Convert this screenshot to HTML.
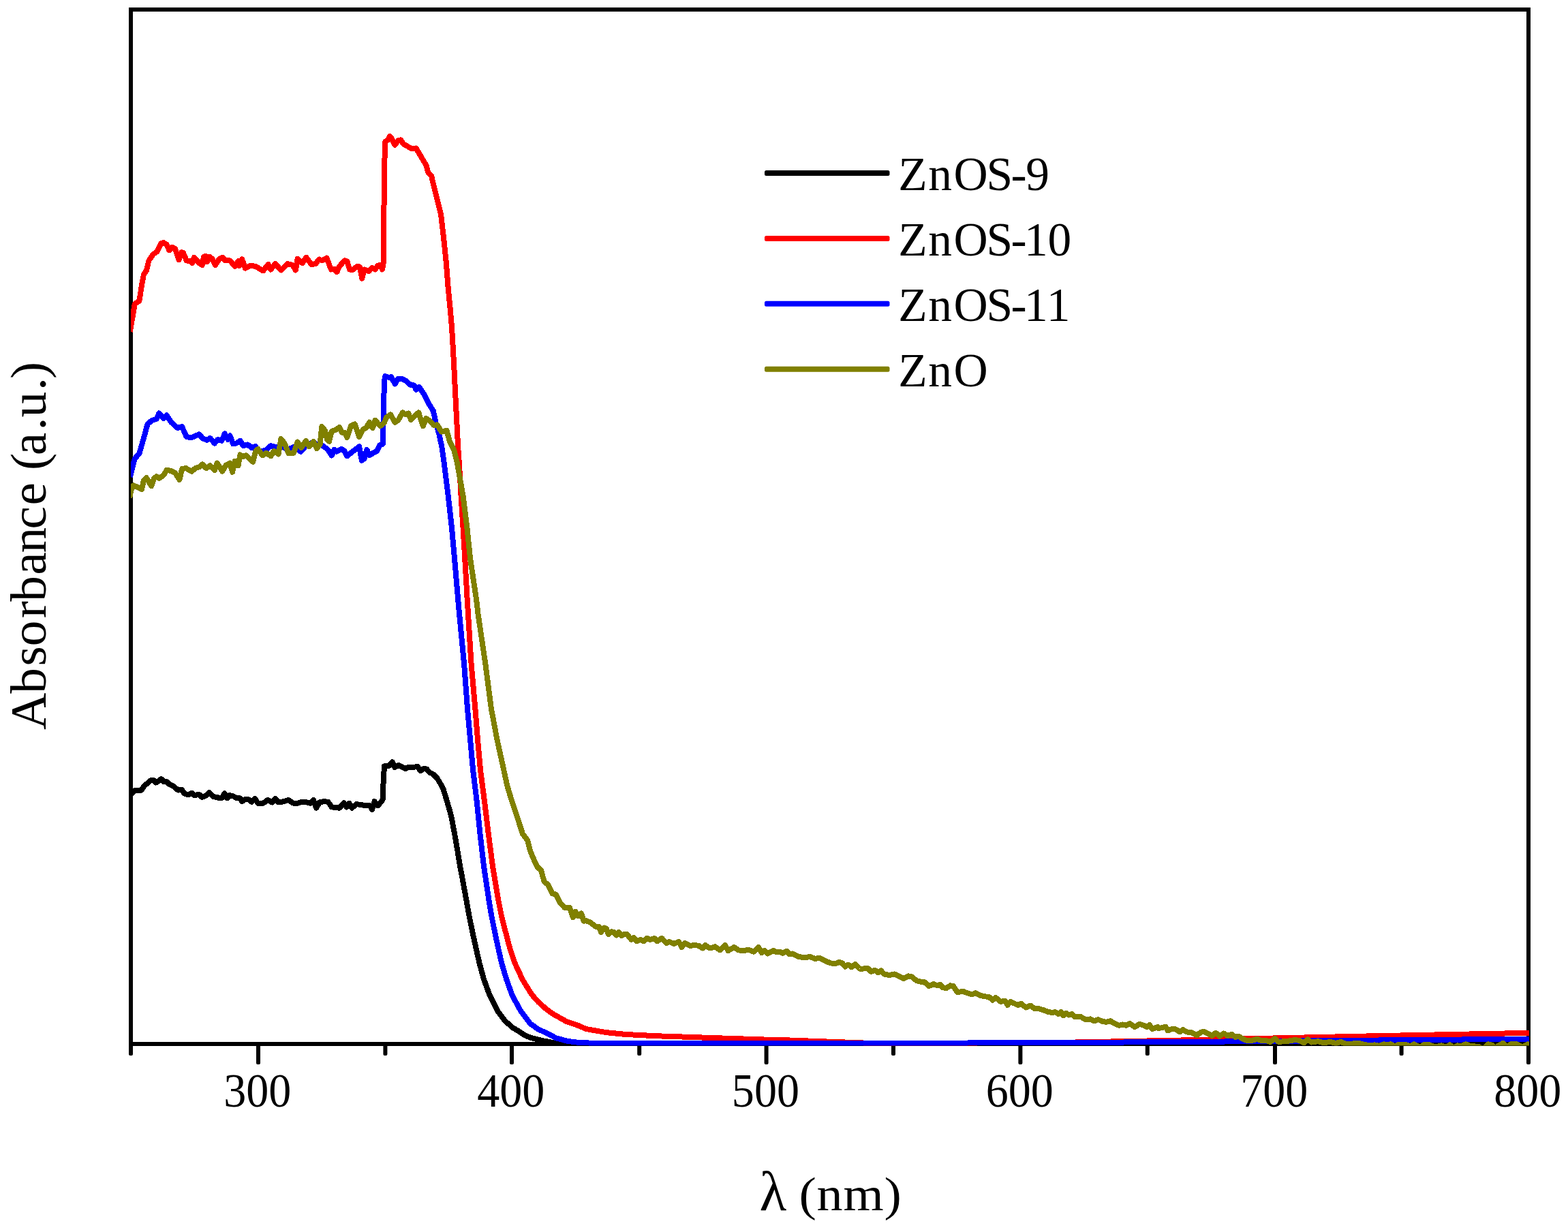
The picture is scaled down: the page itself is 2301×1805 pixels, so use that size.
<!DOCTYPE html>
<html lang="en"><head><meta charset="utf-8"><title>UV-Vis absorbance spectra</title>
<style>
html,body{margin:0;padding:0;background:#fff;}
body{width:2301px;height:1805px;overflow:hidden;}
svg{display:block;}
text{font-family:"Liberation Serif", "DejaVu Serif", serif;fill:#000;}
.tick{font-size:69px;text-anchor:middle;}
.leg{font-size:69.5px;}
.title{text-anchor:middle;}
</style></head><body>
<svg width="2301" height="1805" viewBox="0 0 2301 1805">
<rect x="0" y="0" width="2301" height="1805" fill="#ffffff"/>
<defs><clipPath id="plot"><rect x="192" y="14.0" width="2052.0" height="1520.6"/></clipPath></defs>
<g fill="none" stroke="#000" stroke-width="6.0" shape-rendering="crispEdges">
<rect x="192.0" y="14.0" width="2051.0" height="1518.0"/>
</g>
<g fill="#000">
<rect x="189.0" y="1530.0" width="6.0" height="19.0" rx="2" ry="2"/>
<rect x="376.0" y="1530.0" width="6.0" height="32.0" rx="2" ry="2"/>
<rect x="562.4" y="1530.0" width="6.0" height="19.0" rx="2" ry="2"/>
<rect x="748.0" y="1530.0" width="6.0" height="32.0" rx="2" ry="2"/>
<rect x="935.2" y="1530.0" width="6.0" height="19.0" rx="2" ry="2"/>
<rect x="1121.6" y="1530.0" width="6.0" height="32.0" rx="2" ry="2"/>
<rect x="1308.0" y="1530.0" width="6.0" height="19.0" rx="2" ry="2"/>
<rect x="1494.4" y="1530.0" width="6.0" height="32.0" rx="2" ry="2"/>
<rect x="1680.8" y="1530.0" width="6.0" height="19.0" rx="2" ry="2"/>
<rect x="1868.0" y="1530.0" width="6.0" height="32.0" rx="2" ry="2"/>
<rect x="2053.6" y="1530.0" width="6.0" height="19.0" rx="2" ry="2"/>
<rect x="2240.0" y="1530.0" width="6.0" height="32.0" rx="2" ry="2"/>
</g>
<g clip-path="url(#plot)" fill="none" stroke-width="8.0" stroke-linejoin="round" stroke-linecap="butt" shape-rendering="crispEdges">
<polyline stroke="#000000" points="189.6,1172.0 192.1,1165.8 197.9,1160.2 207.6,1159.6 211.7,1153.4 216.5,1149.2 221.3,1145.1 225.5,1145.1 228.9,1148.5 233.1,1145.8 236.5,1143.0 240.6,1147.2 244.8,1147.2 248.9,1151.3 254.4,1153.4 261.3,1159.6 266.8,1158.9 270.3,1164.4 275.8,1166.4 281.3,1163.7 285.4,1167.1 292.3,1165.8 296.4,1169.9 302.0,1167.8 306.8,1163.0 313.0,1169.2 318.5,1169.9 321.9,1171.3 326.1,1170.6 329.5,1164.4 333.7,1171.3 337.1,1167.1 342.6,1168.5 347.4,1171.3 352.3,1171.3 355.0,1176.1 360.5,1172.6 364.7,1173.3 369.5,1176.8 374.3,1172.0 378.4,1178.8 386.0,1178.8 392.9,1174.0 399.1,1177.5 403.9,1172.0 408.8,1177.5 417.0,1176.1 423.2,1174.0 429.4,1178.2 434.9,1179.5 440.0,1177.5 448.3,1176.8 455.2,1178.8 460.0,1174.0 464.1,1185.7 468.9,1177.5 475.8,1176.1 481.3,1176.8 486.9,1184.4 492.4,1185.0 497.9,1185.7 504.8,1178.2 508.9,1184.4 512.3,1178.8 516.5,1185.7 522.7,1180.2 529.6,1180.9 536.5,1182.3 542.7,1182.3 546.1,1187.8 549.6,1176.1 554.4,1182.3 559.9,1176.1 562.0,1172.6 562.6,1146.5 564.0,1124.4 570.9,1123.7 575.7,1118.2 579.2,1125.8 584.7,1123.0 590.2,1125.8 595.0,1127.9 599.9,1125.8 606.7,1125.8 612.9,1125.1 617.1,1131.3 621.9,1127.9 626.0,1128.5 630.2,1133.4 635.7,1136.1 641.2,1141.6 646.7,1150.6 650.8,1158.9 655.0,1172.6 659.7,1188.7 662.7,1200.3 667.1,1223.7 671.2,1247.1 675.0,1270.5 679.4,1293.9 684.2,1320.0 688.4,1343.4 693.1,1366.8 698.3,1390.3 703.6,1413.7 710.0,1437.1 718.6,1460.5 730.3,1483.9 741.0,1498.0 752.4,1508.0 761.5,1513.5 771.0,1519.7 779.0,1523.0 795.0,1526.9 812.0,1530.2 834.0,1531.9 900.0,1532.3 1000.0,1532.3 2244.0,1532.3"/>
<polyline stroke="#ff0000" points="190.8,487.0 197.8,446.1 204.4,441.4 208.1,418.0 210.9,403.0 214.7,397.4 218.4,382.4 225.0,373.0 230.6,369.3 236.2,357.1 240.0,356.1 244.6,359.0 248.4,367.4 252.1,362.7 256.8,364.6 262.4,381.4 266.2,370.2 269.0,371.1 273.7,382.4 279.3,383.3 282.1,386.1 284.9,377.7 292.4,386.1 296.6,388.9 299.0,376.8 301.8,375.8 303.7,384.2 307.4,376.8 311.2,379.6 315.9,388.9 321.5,380.5 326.2,377.7 330.8,382.4 337.4,382.4 344.9,390.8 349.6,383.3 351.5,389.9 355.2,380.5 359.9,393.6 367.4,389.9 374.9,390.8 386.1,397.4 393.6,388.0 397.4,395.5 403.9,387.1 412.4,396.4 421.7,387.1 429.2,388.9 433.9,396.4 436.7,379.6 440.0,383.3 443.7,386.1 449.4,377.7 456.9,388.0 463.4,387.1 468.1,380.5 472.8,382.4 479.4,378.6 485.9,395.5 490.6,394.6 494.3,399.2 498.1,390.8 505.6,382.4 509.3,383.3 513.1,395.5 516.8,396.4 524.3,390.8 528.1,391.7 531.3,408.6 534.6,395.5 541.2,398.3 545.9,392.7 550.6,395.5 554.3,389.9 558.1,388.9 560.9,395.5 562.7,386.1 563.7,283.1 564.6,226.8 565.2,208.1 569.3,205.3 572.1,200.2 574.9,203.4 579.6,212.8 584.3,206.2 588.0,205.3 592.7,211.9 604.9,218.4 610.5,217.5 616.1,226.8 625.5,242.8 628.3,253.1 633.0,257.8 638.3,280.0 647.1,315.1 651.2,350.3 654.8,385.4 657.5,420.5 660.9,455.6 663.0,480.0 665.7,526.8 668.0,573.7 670.4,620.5 672.1,655.6 673.9,680.0 676.5,726.8 679.5,773.7 682.3,820.5 685.7,880.0 686.9,900.0 691.6,974.7 697.4,1040.0 701.0,1085.0 705.0,1130.0 711.1,1176.8 716.8,1223.7 722.9,1270.5 731.1,1320.0 735.8,1343.4 741.7,1366.8 747.9,1390.3 755.7,1413.7 766.6,1437.1 773.6,1448.8 781.2,1460.5 790.6,1471.0 801.1,1480.4 810.5,1487.4 820.0,1492.7 831.3,1499.1 849.2,1505.2 860.0,1510.0 889.3,1515.1 918.5,1518.0 962.4,1520.2 1006.3,1521.7 1050.2,1523.2 1094.1,1524.6 1138.0,1526.1 1140.0,1525.8 1274.6,1530.8 1420.0,1530.6 1578.0,1529.5 1720.0,1526.8 2000.0,1520.6 2100.0,1518.6 2244.0,1515.8"/>
<polyline stroke="#0000ff" points="190.8,700.0 197.8,673.0 204.4,665.5 210.9,643.0 216.5,622.4 223.1,616.8 229.7,614.9 233.4,606.5 240.0,614.0 244.6,609.3 251.2,619.6 260.6,628.0 267.1,626.2 273.7,641.1 281.2,642.1 287.7,639.3 292.4,637.4 297.1,643.0 303.7,645.8 308.4,643.0 314.9,650.5 319.6,644.9 325.2,646.8 329.9,636.5 334.6,644.9 337.4,639.3 342.1,651.5 346.8,650.5 352.4,646.8 357.1,654.3 363.6,652.4 369.3,657.1 374.9,655.2 380.5,662.7 389.9,660.8 397.4,654.3 404.9,656.1 414.2,655.2 421.7,659.9 431.1,656.1 441.4,662.7 448.0,655.2 455.5,650.5 464.8,651.5 473.7,654.3 480.3,659.0 486.8,668.3 490.6,659.9 494.3,662.7 500.9,659.0 505.6,661.8 509.3,669.3 515.0,664.6 522.4,659.0 527.1,655.2 530.9,675.8 534.6,673.0 538.4,659.9 542.1,668.3 547.7,664.6 553.4,661.8 557.1,653.3 561.8,651.5 563.1,592.4 564.0,558.7 565.2,552.1 571.2,554.0 574.0,553.1 579.6,563.4 584.3,555.9 589.9,555.9 595.5,558.7 603.0,565.3 607.7,565.3 610.5,571.8 615.2,568.1 622.7,579.3 629.3,592.4 635.8,603.0 639.6,620.5 644.6,638.1 648.3,655.6 651.8,680.0 657.6,726.8 662.9,773.7 667.1,820.5 672.2,880.0 674.0,900.0 681.1,974.7 686.0,1040.0 694.1,1130.0 699.8,1176.8 704.5,1223.7 709.9,1270.5 717.3,1320.0 721.2,1343.4 725.9,1366.8 730.9,1390.3 736.2,1413.7 743.2,1437.1 751.6,1460.5 764.3,1483.9 778.0,1502.0 788.6,1509.7 803.5,1516.8 815.8,1523.2 832.5,1527.8 849.2,1529.9 871.4,1530.8 900.0,1531.0 1000.0,1531.0 1420.0,1530.5 1720.0,1529.2 2000.0,1526.7 2244.0,1524.7"/>
<polyline stroke="#808000" points="190.3,730.2 192.2,719.9 195.9,712.4 202.5,715.2 208.1,718.0 210.9,704.9 214.7,701.1 222.2,713.3 225.9,702.0 229.7,699.2 233.4,702.0 240.0,697.4 244.6,689.9 250.3,690.8 256.8,693.6 263.4,703.9 267.1,688.0 272.8,687.1 281.2,691.7 286.8,687.1 292.4,685.2 297.1,681.4 302.7,687.1 308.4,683.3 314.9,689.9 318.7,679.6 326.2,691.7 331.8,682.4 337.4,679.6 341.1,692.7 344.9,676.8 349.6,683.3 352.4,667.4 357.1,670.2 360.8,668.3 371.1,677.7 374.9,662.7 378.6,659.0 385.2,668.3 390.8,664.6 397.4,669.3 402.0,661.8 408.6,666.4 412.4,644.0 418.0,651.5 423.6,665.5 431.1,664.6 436.7,648.6 442.3,657.1 448.9,646.8 453.6,655.2 460.1,647.7 464.8,658.0 469.5,652.4 472.3,626.2 477.0,631.8 480.0,644.9 483.1,647.7 486.8,632.7 492.5,630.8 498.1,627.1 501.8,634.6 505.6,634.6 509.3,642.1 515.0,625.2 520.6,622.4 527.1,641.1 532.8,629.9 537.4,628.0 542.1,619.6 546.8,628.0 550.6,616.8 558.1,625.2 563.7,620.5 567.4,612.1 573.0,608.4 579.6,619.6 584.3,616.8 590.8,605.5 595.5,608.4 599.3,606.5 603.0,615.9 608.6,610.2 614.3,605.5 620.8,625.2 625.5,614.0 631.1,617.7 636.8,624.3 641.4,623.3 648.0,633.7 655.5,631.8 660.2,648.6 666.7,661.8 671.0,680.0 679.4,726.8 685.3,773.7 690.2,820.5 699.1,880.0 701.4,900.0 712.4,974.7 720.9,1040.0 729.4,1085.0 739.3,1130.0 744.4,1153.4 751.5,1176.8 759.4,1200.3 767.0,1223.7 774.1,1233.0 777.6,1247.1 782.3,1258.8 787.5,1270.5 789.3,1273.0 793.9,1276.8 798.6,1293.6 804.2,1298.3 810.8,1311.4 815.5,1312.4 821.1,1323.6 828.6,1332.0 836.1,1332.0 840.8,1346.1 844.5,1337.7 848.3,1344.2 853.0,1340.5 856.7,1351.7 860.0,1351.2 865.9,1353.4 874.6,1360.0 879.0,1360.0 882.0,1368.0 886.3,1361.5 890.0,1362.9 892.9,1371.0 897.3,1367.3 901.0,1368.0 904.6,1372.4 908.3,1368.0 912.0,1373.2 915.6,1371.0 920.0,1371.0 926.6,1379.0 930.2,1376.1 934.6,1381.2 939.8,1379.0 944.9,1381.2 949.3,1376.8 954.4,1379.0 960.2,1376.8 964.6,1381.2 971.2,1376.8 977.8,1384.1 982.2,1382.0 988.8,1384.9 996.1,1382.0 1000.5,1390.0 1004.9,1384.1 1012.9,1387.8 1019.5,1387.1 1025.4,1387.8 1031.2,1391.5 1034.9,1387.1 1041.5,1391.5 1049.5,1389.3 1056.8,1394.4 1064.1,1387.1 1068.5,1395.1 1077.3,1390.0 1083.9,1394.4 1091.2,1395.1 1098.5,1393.7 1105.9,1396.6 1113.2,1390.0 1117.6,1398.0 1122.0,1395.1 1126.3,1399.5 1135.1,1395.1 1140.0,1397.3 1143.7,1396.6 1148.8,1398.8 1154.6,1395.9 1158.3,1400.2 1162.7,1399.5 1172.2,1403.9 1181.0,1405.4 1188.3,1403.9 1195.6,1406.8 1202.9,1406.1 1211.7,1410.5 1219.0,1413.4 1225.6,1414.1 1231.5,1412.0 1235.9,1413.4 1240.2,1418.5 1244.6,1415.6 1249.8,1419.3 1254.9,1414.9 1261.5,1421.5 1267.3,1421.5 1273.2,1420.7 1278.3,1425.9 1284.1,1423.7 1288.5,1427.3 1292.9,1424.4 1297.3,1429.5 1305.4,1431.0 1312.7,1429.5 1320.0,1433.2 1325.9,1436.1 1333.2,1432.4 1337.6,1433.2 1344.9,1439.0 1350.7,1440.5 1356.6,1441.2 1363.2,1447.1 1369.8,1444.1 1375.6,1446.3 1380.0,1444.9 1383.7,1449.3 1388.8,1450.0 1394.6,1446.3 1399.0,1447.1 1404.9,1455.9 1413.7,1455.1 1420.0,1457.3 1425.9,1459.5 1431.7,1457.3 1439.0,1461.0 1446.3,1462.4 1451.5,1463.2 1456.6,1467.6 1461.0,1463.9 1468.3,1469.8 1474.9,1469.0 1478.5,1474.9 1482.9,1469.8 1488.8,1472.7 1493.9,1474.9 1498.3,1472.7 1505.6,1478.5 1512.2,1475.6 1518.0,1480.0 1523.9,1480.0 1531.2,1482.2 1538.5,1485.1 1544.4,1485.9 1548.8,1485.1 1553.2,1488.0 1556.8,1485.1 1560.5,1490.2 1564.1,1486.6 1568.5,1489.5 1572.9,1488.0 1577.3,1492.4 1585.4,1491.7 1592.7,1496.1 1600.0,1495.4 1605.9,1498.3 1611.7,1496.1 1617.6,1499.0 1623.4,1499.8 1629.3,1498.3 1635.9,1502.0 1642.4,1504.9 1647.6,1503.4 1652.7,1504.9 1657.8,1502.0 1665.1,1507.1 1672.4,1502.7 1679.0,1504.9 1683.4,1507.1 1687.1,1504.1 1690.7,1510.0 1698.8,1507.1 1700.0,1508.9 1705.5,1508.2 1710.3,1506.8 1713.8,1512.3 1719.3,1510.3 1724.8,1510.3 1731.7,1514.4 1735.8,1511.0 1741.3,1514.4 1748.2,1515.1 1756.5,1519.2 1762.0,1515.1 1766.1,1513.7 1771.7,1516.5 1778.5,1519.9 1784.1,1515.8 1789.6,1520.6 1795.8,1516.5 1802.0,1519.9 1807.5,1517.9 1813.0,1522.0 1817.8,1520.6 1824.0,1524.7 1829.5,1526.8 1837.8,1526.8 1844.7,1524.7 1850.2,1526.8 1857.1,1526.8 1864.0,1528.9 1870.9,1524.1 1876.4,1528.9 1884.7,1528.2 1891.5,1527.5 1899.8,1526.1 1906.7,1526.8 1913.6,1530.3 1919.1,1525.4 1924.6,1529.6 1934.3,1528.2 1942.5,1530.3 1952.2,1528.9 1960.5,1531.0 1967.3,1528.9 1974.2,1531.6 1980.0,1532.3 1986.9,1531.2 1995.2,1531.2 2002.0,1533.0 2010.3,1534.0 2017.2,1533.4 2024.1,1534.8 2031.0,1532.3 2035.1,1533.7 2040.6,1532.3 2047.5,1535.4 2051.7,1533.0 2058.5,1533.4 2064.1,1533.4 2069.6,1535.1 2075.1,1532.3 2082.0,1535.8 2086.1,1535.8 2090.2,1532.6 2097.1,1533.0 2105.4,1536.7 2115.0,1534.4 2121.9,1536.7 2127.5,1533.4 2133.0,1537.8 2138.5,1534.4 2144.0,1535.1 2150.9,1532.3 2157.8,1535.1 2170.2,1535.8 2174.3,1538.5 2178.4,1537.8 2184.0,1532.3 2189.5,1533.7 2193.6,1537.8 2199.1,1534.4 2206.0,1530.7 2211.5,1536.5 2217.0,1532.3 2225.3,1532.3 2234.9,1536.5 2241.8,1532.3 2245.3,1533.7"/>
</g>
<g class="tick">
<text transform="translate(377.8,1624.0) scale(0.958,1)" x="0" y="0">300</text>
<text transform="translate(749.8,1624.0) scale(0.958,1)" x="0" y="0">400</text>
<text transform="translate(1123.4,1624.0) scale(0.958,1)" x="0" y="0">500</text>
<text transform="translate(1496.2,1624.0) scale(0.958,1)" x="0" y="0">600</text>
<text transform="translate(1869.8,1624.0) scale(0.958,1)" x="0" y="0">700</text>
<text transform="translate(2241.8,1624.0) scale(0.958,1)" x="0" y="0">800</text>
</g>
<g>
<rect x="1122" y="250.0" width="183.5" height="8" rx="2.5" ry="2.5" fill="#000000"/>
<rect x="1122" y="345.9" width="183.5" height="8" rx="2.5" ry="2.5" fill="#ff0000"/>
<rect x="1122" y="441.8" width="183.5" height="8" rx="2.5" ry="2.5" fill="#0000ff"/>
<rect x="1122" y="537.7" width="183.5" height="8" rx="2.5" ry="2.5" fill="#808000"/>
</g>
<g class="leg">
<text x="1318.3 1362.2 1399.5 1447.5 1483.4 1505.3" y="279.0">ZnOS-9</text>
<text x="1318.3 1362.2 1399.5 1447.5 1483.4 1503.0 1537.5" y="374.9">ZnOS-10</text>
<text x="1318.3 1362.2 1399.5 1447.5 1483.4 1503.0 1535.7" y="470.8">ZnOS-11</text>
<text x="1318.3 1362.2 1399.5" y="566.7">ZnO</text>
</g>
<text x="1114.5" y="1775.8" font-size="82">λ</text>
<text transform="translate(1172.5,1775.8) scale(1.08,1)" x="0 24.07 60.09 115.65" y="0" font-size="70.5">(nm)</text>
<text transform="translate(66.8,801.6) rotate(-90) scale(1.033,1)" x="-260.8 -209.3 -170.3 -141.9 -102.4 -78.5 -40.8 -9.6 24.3 58.3 90.2 108.0 129.1 164.7 183.1 221.2 237.8" y="0" font-size="73">Absorbance (a.u.)</text>
</svg>
</body></html>
